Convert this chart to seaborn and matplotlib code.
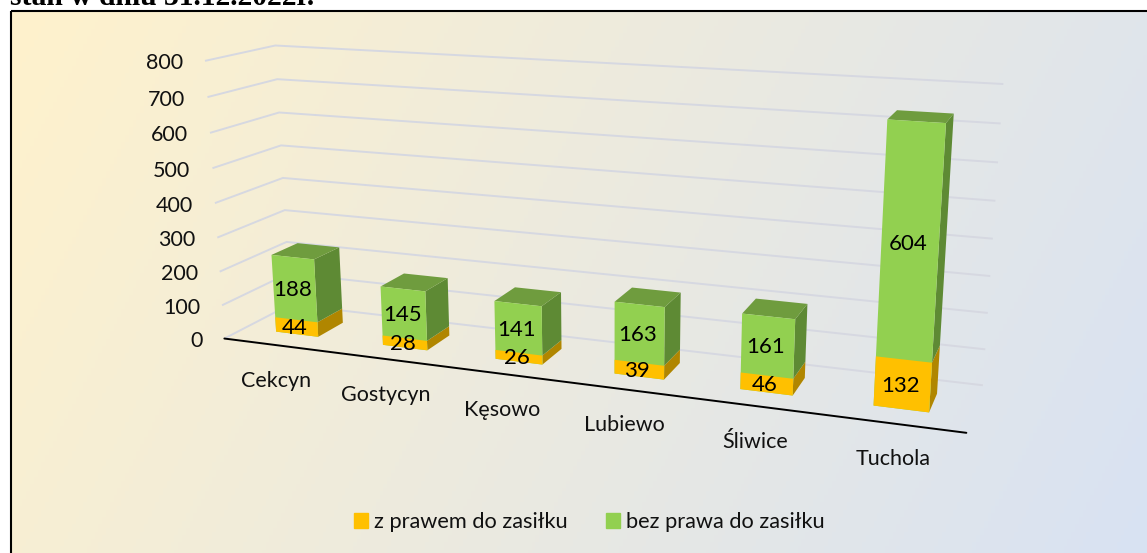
import numpy as np
import pandas as pd
import matplotlib
matplotlib.use("Agg")
import matplotlib.pyplot as plt
from matplotlib.patches import Rectangle
from matplotlib.transforms import Transform, ScaledTranslation
from matplotlib.colors import to_rgb
import seaborn as sns

# ---- data -------------------------------------------------------------
gminy = ["Cekcyn", "Gostycyn", "Kęsowo", "Lubiewo", "Śliwice", "Tuchola"]
z_prawem = [44, 28, 26, 39, 46, 132]
bez_prawa = [188, 145, 141, 163, 161, 604]
y_ticks = [0, 100, 200, 300, 400, 500, 600, 700, 800]
legend_labels = ["z prawem do zasiłku", "bez prawa do zasiłku"]
title_text = "stan w dniu 31.12.2022r."

# ---- style ------------------------------------------------------------
W, H = 1147, 553
BAR_W, Z_F, Z_B = 0.40, 0.30, 0.70
GREEN, GREEN_SIDE, GREEN_TOP = "#92D050", "#5E8A34", "#6F9C3E"
YEL, YEL_SIDE = "#FFC000", "#B08600"
GRID = "#D6D8E1"

sns.set_theme(style="white")
plt.rcParams["font.family"] = ["Lato", "DejaVu Sans"]
FS_TICK, FS_VAL, FS_LEG = 15.5, 16, 15.7

# ---- camera: world (category, value, depth) -> figure pixels ----------
anchors = [
    (0, 800, 0, 205, 61), (0, 0, 0, 224, 338), (6, 0, 0, 967, 433),
    (0, 800, 1, 275, 44.5), (0, 0, 1, 291, 308),
    (6, 800, 1, 1003, 84), (6, 0, 1, 983, 385),
    (0.5 - BAR_W/2, 0, Z_F, 276, 331.7), (0.5 + BAR_W/2, 0, Z_F, 318.3, 336.7),
    (1.5 - BAR_W/2, 0, Z_F, 383, 345), (1.5 + BAR_W/2, 0, Z_F, 427.3, 350),
    (2.5 - BAR_W/2, 0, Z_F, 495, 359.3), (2.5 + BAR_W/2, 0, Z_F, 542.3, 364.3),
    (3.5 - BAR_W/2, 0, Z_F, 614, 373.3), (3.5 + BAR_W/2, 0, Z_F, 664.3, 379.3),
    (4.5 - BAR_W/2, 0, Z_F, 740, 391.7), (4.5 + BAR_W/2, 0, Z_F, 792.7, 396),
    (5.5 - BAR_W/2, 0, Z_F, 873.3, 405), (5.5 + BAR_W/2, 0, Z_F, 929, 412.3),
    (0.5 + BAR_W/2, 0, Z_B, 342.3, 319.3), (1.5 + BAR_W/2, 0, Z_B, 449, 336),
    (5.5 + BAR_W/2, 0, Z_B, 937.3, 391.7),
    (5.5 - BAR_W/2, 736, Z_F, 887.3, 120), (5.5 + BAR_W/2, 736, Z_F, 946, 123.3),
    (5.5 + BAR_W/2, 736, Z_B, 954, 114),
    (0.5 - BAR_W/2, 232, Z_F, 272, 255), (0.5 + BAR_W/2, 232, Z_F, 315, 259.3),
    (0.5 + BAR_W/2, 232, Z_B, 339, 247.3),
]
rows = []
for x, y, z, u, v in anchors:
    X = [x / 6, y / 800, z, 1]
    u, v = u / 1000, v / 1000
    rows.append(X + [0, 0, 0, 0] + [-u * c for c in X])
    rows.append([0, 0, 0, 0] + X + [-v * c for c in X])
CAM = np.linalg.svd(np.array(rows))[2][-1].reshape(3, 4)


def project(x, y, z):
    x, y, z = np.broadcast_arrays(np.asarray(x, float), np.asarray(y, float), np.asarray(z, float))
    p = CAM @ np.stack([x / 6, y / 800, z, np.ones_like(x)])
    return np.stack([p[0] / p[2] * 1000, p[1] / p[2] * 1000], -1)


class FrontPlane(Transform):
    """Maps seaborn's (bar index, value) on to the bars' front plane."""
    input_dims = output_dims = 2
    has_inverse = False

    def transform_non_affine(self, values):
        values = np.asarray(values, float)
        return project(values[:, 0] + 0.5, values[:, 1], np.full(len(values), Z_F))


# ---- figure -----------------------------------------------------------
fig = plt.figure(figsize=(W / 100, H / 100), dpi=100, facecolor="white")
ax = fig.add_axes([0, 0, 1, 1], zorder=1)
ax.set_xlim(0, W)
ax.set_ylim(H, 0)
ax.axis("off")

# background gradient + frame
gx, gy = np.meshgrid(np.linspace(0, 1, 300), np.linspace(0, 1, 150))
t = np.clip((0.8 * gx + 0.2 * gy)[..., None], 0, 1)
c0, c1 = np.array(to_rgb("#FFF2CC")), np.array(to_rgb("#D8E2F3"))
ax.imshow(c0 + (c1 - c0) * t, extent=(11, W + 4, H + 4, 11), aspect="auto", zorder=0)
ax.set_xlim(0, W)
ax.set_ylim(H, 0)
ax.add_patch(Rectangle((11, 11), W, H, fill=False, ec="black", lw=1.5, zorder=1))
ax.text(10, 5, title_text, family="Liberation Serif", weight="bold", fontsize=21.3,
        color="black", va="baseline", ha="left", zorder=5)

# gridlines on the two walls
for v in y_ticks:
    pts = project([0, 0, 6], [v] * 3, [0, 1, 1])
    ax.plot(pts[:, 0], pts[:, 1], color=GRID, lw=1.4, zorder=2, solid_capstyle="butt")
    ax.text(pts[0, 0] - 22, pts[0, 1] + 0.5, str(v), ha="right", va="center_baseline",
            fontsize=FS_TICK, color="#111111", zorder=6)

# floor front edge
pts = project([0, 6], [0, 0], [0, 0])
ax.plot(pts[:, 0], pts[:, 1], color="black", lw=1.4, zorder=6)

# side and top faces of each bar
for i, (a, b) in enumerate(zip(z_prawem, bez_prawa)):
    xl, xr = i + 0.5 - BAR_W / 2, i + 0.5 + BAR_W / 2
    total = a + b
    for lo, hi, col in [(0, a, YEL_SIDE), (a, total, GREEN_SIDE)]:
        q = project([xr, xr, xr, xr], [lo, lo, hi, hi], [Z_F, Z_B, Z_B, Z_F])
        ax.fill(q[:, 0], q[:, 1], color=col, lw=0, zorder=3)
    q = project([xl, xr, xr, xl], [total] * 4, [Z_F, Z_F, Z_B, Z_B])
    ax.fill(q[:, 0], q[:, 1], color=GREEN_TOP, lw=0, zorder=3)
    lab = project(i + 0.49, 0, 0)
    ax.text(lab[0], lab[1] + 34, gminy[i], ha="center", va="center_baseline",
            fontsize=FS_TICK, color="#111111", zorder=6)

# front faces: seaborn bars, sent through the perspective
df = pd.DataFrame({"gmina": gminy, "z_prawem": z_prawem, "bez_prawa": bez_prawa})
df["razem"] = df["z_prawem"] + df["bez_prawa"]

ax2 = fig.add_axes([0, 0, 1, 1], zorder=2)
ax2.patch.set_alpha(0)
sns.barplot(data=df, x="gmina", y="razem", color=GREEN, saturation=1, width=BAR_W, ax=ax2)
sns.barplot(data=df, x="gmina", y="z_prawem", color=YEL, saturation=1, width=BAR_W, ax=ax2)
ax2.axis("off")
front = FrontPlane() + ax.transData
for p in ax2.patches:
    p.set_transform(front)
    p.set_clip_on(False)
    p.set_linewidth(0)

label_tr = front + ScaledTranslation(0, -1.5 / 100, fig.dpi_scale_trans)
for i, (a, b) in enumerate(zip(z_prawem, bez_prawa)):
    ax2.text(i - 0.015, a / 2, str(a), transform=label_tr, ha="center", va="center",
             fontsize=FS_VAL, color="black", clip_on=False, zorder=6)
    ax2.text(i - 0.015, a + b / 2, str(b), transform=label_tr, ha="center", va="center",
             fontsize=FS_VAL, color="black", clip_on=False, zorder=6)

# legend
handles = [Rectangle((0, 0), 1, 1, color=YEL), Rectangle((0, 0), 1, 1, color=GREEN)]
ax2.legend(handles, legend_labels, ncols=2, frameon=False, fontsize=FS_LEG,
           loc="center", bbox_to_anchor=(589.5 / W, 1 - 522 / H), bbox_transform=fig.transFigure,
           handlelength=0.64, handleheight=0.64, handletextpad=0.27, columnspacing=1.75,
           borderpad=0, borderaxespad=0, labelcolor="#111111")

fig.savefig("out.png", dpi=100)
